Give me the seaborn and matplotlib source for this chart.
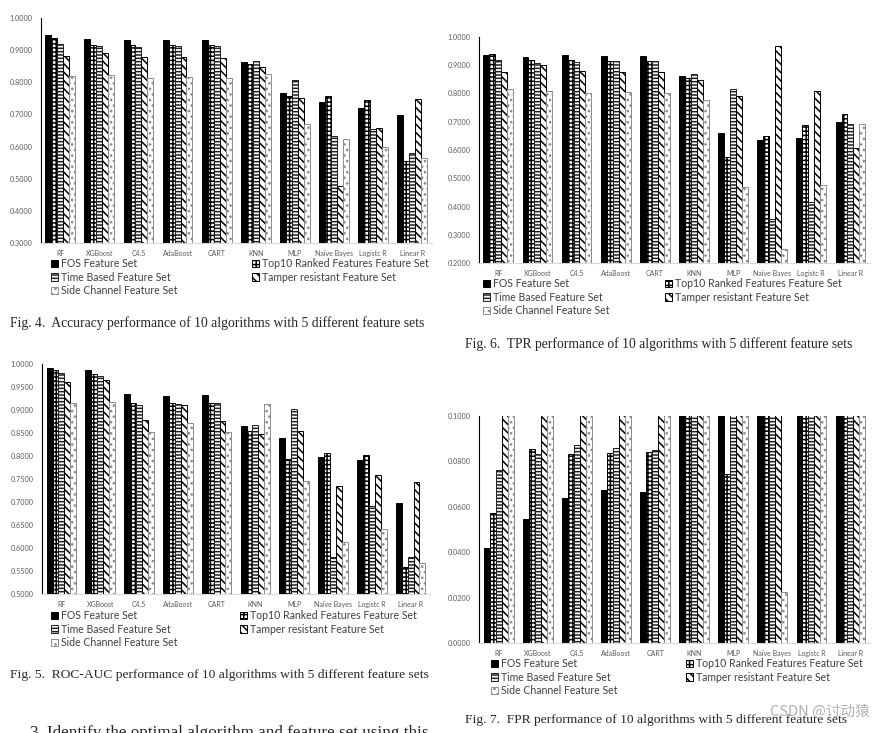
import numpy as np
import pandas as pd
import matplotlib.pyplot as plt
import seaborn as sns
from matplotlib.patches import Patch
from matplotlib.ticker import MultipleLocator, AutoMinorLocator, FuncFormatter

# --- dados ---
algoritmos = ['RF', 'XGBoost', 'C4.5', 'AdaBoost', 'CART', 'KNN', 'MLP',
              'Naïve Bayes', 'Logistc R', 'Linear R']
feature_sets = ['FOS Feature Set', 'Top10 Ranked Features Feature Set',
                'Time Based Feature Set', 'Tamper resistant Feature Set',
                'Side Channel Feature Set']

# Fig. 4 - Accuracy
acc_fos = [0.948, 0.936, 0.933, 0.931, 0.931, 0.865, 0.766, 0.738, 0.719, 0.697]
acc_top10 = [0.940, 0.917, 0.917, 0.916, 0.916, 0.856, 0.757, 0.758, 0.744, 0.554]
acc_time = [0.921, 0.913, 0.912, 0.915, 0.915, 0.866, 0.806, 0.633, 0.655, 0.579]
acc_tamper = [0.883, 0.891, 0.879, 0.878, 0.877, 0.847, 0.751, 0.478, 0.659, 0.748]
acc_side = [0.819, 0.822, 0.813, 0.816, 0.813, 0.825, 0.671, 0.623, 0.597, 0.565]

# Fig. 6 - TPR
tpr_fos = [0.935, 0.927, 0.934, 0.931, 0.931, 0.860, 0.661, 0.635, 0.644, 0.700]
tpr_top10 = [0.938, 0.918, 0.916, 0.913, 0.913, 0.853, 0.576, 0.648, 0.689, 0.726]
tpr_time = [0.916, 0.908, 0.911, 0.913, 0.913, 0.868, 0.814, 0.355, 0.418, 0.693]
tpr_tamper = [0.876, 0.899, 0.878, 0.875, 0.874, 0.846, 0.789, 0.967, 0.809, 0.608]
tpr_side = [0.816, 0.809, 0.800, 0.806, 0.800, 0.776, 0.468, 0.251, 0.475, 0.691]

# Fig. 5 - ROC-AUC
auc_fos = [0.991, 0.988, 0.934, 0.931, 0.932, 0.865, 0.839, 0.799, 0.792, 0.698]
auc_top10 = [0.988, 0.978, 0.916, 0.915, 0.915, 0.855, 0.793, 0.806, 0.802, 0.559]
auc_time = [0.980, 0.975, 0.912, 0.913, 0.915, 0.868, 0.902, 0.582, 0.692, 0.582]
auc_tamper = [0.961, 0.966, 0.879, 0.912, 0.877, 0.847, 0.854, 0.736, 0.758, 0.744]
auc_side = [0.915, 0.918, 0.852, 0.871, 0.852, 0.913, 0.747, 0.613, 0.641, 0.567]

# Fig. 7 - FPR (valores acima de 0.1 ficam cortados no topo do eixo)
fpr_fos = [0.0418, 0.0547, 0.0639, 0.0672, 0.0665, 0.12, 0.12, 0.12, 0.12, 0.12]
fpr_top10 = [0.0572, 0.0854, 0.0831, 0.0837, 0.0839, 0.12, 0.0745, 0.12, 0.12, 0.12]
fpr_time = [0.0760, 0.0831, 0.0870, 0.0857, 0.0851, 0.12, 0.12, 0.12, 0.12, 0.12]
fpr_tamper = [0.12, 0.12, 0.12, 0.12, 0.12, 0.12, 0.12, 0.12, 0.12, 0.12]
fpr_side = [0.12, 0.12, 0.12, 0.12, 0.12, 0.12, 0.12, 0.0224, 0.12, 0.12]

plt.rcParams['hatch.linewidth'] = 1.1

# estilo de cada conjunto: (cor, borda, hachura)
estilos = [('black', 'black', None),
           ('white', 'black', '++++'),
           ('white', '#202020', '-----'),
           ('white', 'black', '\\\\\\\\'),
           ('white', '#8c8c8c', '...')]


def monta_df(series):
    linhas = []
    for fs, vals in zip(feature_sets, series):
        for alg, v in zip(algoritmos, vals):
            linhas.append({'Algoritmo': alg, 'Feature Set': fs, 'Valor': v})
    return pd.DataFrame(linhas)


def desenha(fig, pos, series, ylim, passo):
    ax = fig.add_axes(pos)
    df = monta_df(series)
    sns.barplot(data=df, x='Algoritmo', y='Valor', hue='Feature Set',
                order=algoritmos, hue_order=feature_sets, width=0.76,
                errorbar=None, legend=False, ax=ax, saturation=1)
    for cont, (fc, ec, h) in zip(ax.containers, estilos):
        for p in cont:
            p.set_facecolor(fc)
            p.set_edgecolor(ec)
            p.set_hatch(h)
            p.set_linewidth(0.7)
    ax.set_ylim(*ylim)
    ax.set_xlim(-0.5, 9.5)
    ax.set_xlabel('')
    ax.set_ylabel('')
    ax.yaxis.set_major_locator(MultipleLocator(passo))
    ax.yaxis.set_minor_locator(AutoMinorLocator(5))
    ax.yaxis.set_major_formatter(FuncFormatter(lambda x, p: f'{x:.4f}'))
    for s in ['top', 'right']:
        ax.spines[s].set_visible(False)
    ax.spines['left'].set_color('black')
    ax.spines['left'].set_linewidth(0.8)
    ax.spines['bottom'].set_color('#d9d9d9')
    ax.spines['bottom'].set_linewidth(0.8)
    ax.tick_params(axis='y', which='major', length=3, width=0.6,
                   labelsize=5.2, labelcolor='#595959', pad=3)
    ax.tick_params(axis='y', which='minor', length=1.8, width=0.5)
    ax.tick_params(axis='x', length=0, labelsize=5.0,
                   labelcolor='#595959', pad=5)
    for t in ax.get_xticklabels() + ax.get_yticklabels():
        t.set_fontfamily('Lato')
    return ax


def legenda(fig, x1, x2, y):
    handles = [Patch(facecolor=fc, edgecolor=ec, hatch=h, linewidth=0.7, label=fs)
               for fs, (fc, ec, h) in zip(feature_sets, estilos)]
    kw = dict(loc='upper left', frameon=False, prop={'family': 'Lato', 'size': 7.6},
              labelcolor='#404040', handlelength=0.65, handleheight=0.7,
              handletextpad=0.3, labelspacing=0.25, borderpad=0, borderaxespad=0)
    fig.legend(handles=[handles[0], handles[2], handles[4]],
               bbox_to_anchor=(x1 / W, 1 - y / H), **kw)
    fig.legend(handles=[handles[1], handles[3]],
               bbox_to_anchor=(x2 / W, 1 - y / H), **kw)


W, H = 885, 733
sns.set_style('white')
fig = plt.figure(figsize=(W / 100, H / 100), dpi=100)


def caixa(l, t, r, b):
    return [l / W, 1 - b / H, (r - l) / W, (b - t) / H]


desenha(fig, caixa(40.7, 18.3, 431.7, 242.7),
        [acc_fos, acc_top10, acc_time, acc_tamper, acc_side], (0.3, 1.0), 0.1)
desenha(fig, caixa(478.7, 36.7, 870, 263.3),
        [tpr_fos, tpr_top10, tpr_time, tpr_tamper, tpr_side], (0.2, 1.0), 0.1)
desenha(fig, caixa(42, 364, 430, 594.3),
        [auc_fos, auc_top10, auc_time, auc_tamper, auc_side], (0.5, 1.0), 0.05)
desenha(fig, caixa(479.3, 415.7, 870, 643),
        [fpr_fos, fpr_top10, fpr_time, fpr_tamper, fpr_side], (0.0, 0.1), 0.02)

legenda(fig, 51, 252, 258)
legenda(fig, 483, 665, 278)
legenda(fig, 51, 240, 610)
legenda(fig, 491, 686, 658)

serif = 'Liberation Serif'
fig.text(10 / W, 1 - 323 / H,
         'Fig. 4.  Accuracy performance of 10 algorithms with 5 different feature sets',
         fontsize=9.85, family=serif, va='center')
fig.text(465 / W, 1 - 344 / H,
         'Fig. 6.  TPR performance of 10 algorithms with 5 different feature sets',
         fontsize=9.85, family=serif, va='center')
fig.text(10 / W, 1 - 675 / H,
         'Fig. 5.  ROC-AUC performance of 10 algorithms with 5 different feature sets',
         fontsize=9.7, family=serif, va='center')
fig.text(465 / W, 1 - 720 / H,
         'Fig. 7.  FPR performance of 10 algorithms with 5 different feature sets',
         fontsize=9.7, family=serif, va='center')
fig.text(30 / W, 1 - 725 / H,
         '3. Identify the optimal algorithm and feature set using this',
         fontsize=12.3, family=serif, va='top')
fig.text(770 / W, 1 - 712 / H, 'CSDN @讨动猿', fontsize=10.5, color='#b0b0b0',
         family=['Noto Sans CJK SC', 'DejaVu Sans'], va='center')

fig.savefig('out.png', dpi=100, facecolor='white')
